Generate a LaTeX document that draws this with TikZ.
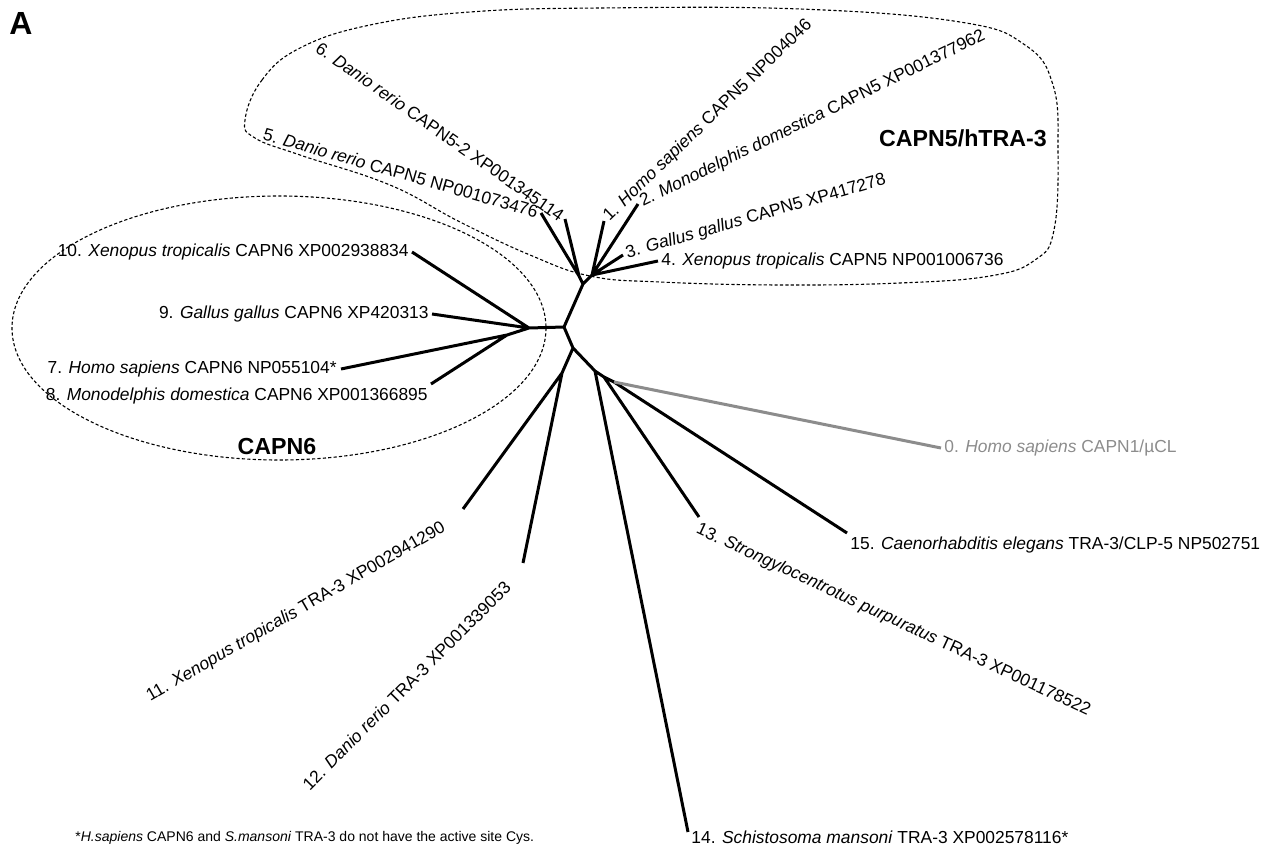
\documentclass[tikz,border=0pt]{standalone}
\usepackage{fontspec}
\setmainfont{Liberation Sans}
\usepackage{tikz}
\usetikzlibrary{calc}

\tikzset{
  leaf/.style={font=\fontsize{8.7}{10}\selectfont, inner sep=1.5pt},
  branch/.style={line width=1.5pt, line join=round},
  outgroup/.style={branch, draw=black!45},
  clade/.style={line width=0.55pt, dash pattern=on 1.6pt off 1.1pt},
  cladename/.style={font=\fontsize{11.6}{13}\selectfont\bfseries},
}

\begin{document}
\begin{tikzpicture}[x=0.5pt, y=-0.5pt]
      \useasboundingbox (0,0) rectangle (1262,845);

      % ---- Points de branchement ----
      \coordinate (c) at (564,327);
      \coordinate (n6) at (529,328);
      \coordinate (n78) at (507,335);
      \coordinate (n5) at (583,284);
      \coordinate (nD) at (579,276);
      \coordinate (nT) at (592,275);
      \coordinate (nL) at (573,348);
      \coordinate (nX) at (562,373);
      \coordinate (nR) at (595,371);
      \coordinate (nS) at (604,377);
      \coordinate (nC) at (614,382);

      % ---- Feuilles ----
      \coordinate (t0) at (941,448);
      \coordinate (t1) at (604,221);
      \coordinate (t2) at (638,204);
      \coordinate (t3) at (623,255);
      \coordinate (t4) at (658,261);
      \coordinate (t5) at (541,213);
      \coordinate (t6) at (565,219);
      \coordinate (t7) at (341,369);
      \coordinate (t8) at (431,384);
      \coordinate (t9) at (432,314);
      \coordinate (t10) at (412,252);
      \coordinate (t11) at (463,509);
      \coordinate (t12) at (523,563);
      \coordinate (t13) at (699,517);
      \coordinate (t14) at (688,832);
      \coordinate (t15) at (847,533);

      % ---- Clades (pointilles) ----
      \draw[clade] plot[smooth cycle, tension=0.7] coordinates {
        (245,120) (262,80) (300,48) (370,25) (470,12) (600,8) (800,9)
        (960,22) (1025,45) (1053,85) (1058,150) (1054,230) (1035,260)
        (990,276) (900,283) (780,285) (660,282) (590,276) (530,255)
        (460,222) (390,185) (300,155) (255,138)};
      \draw[clade] (279,328) ellipse [x radius=267, y radius=132];

      % ---- Arbre ----
      \draw[branch] (c)--(n6) (n6)--(t10) (n6)--(t9) (n6)--(n78)
            (n78)--(t7) (n78)--(t8);
      \draw[branch] (c)--(n5) (n5)--(nD) (nD)--(t5) (nD)--(t6)
            (n5)--(nT) (nT)--(t1) (nT)--(t2) (nT)--(t3) (nT)--(t4);
      \draw[branch] (c)--(nL) (nL)--(nX) (nX)--(t11) (nX)--(t12)
            (nL)--(nR) (nR)--(t14) (nR)--(nS) (nS)--(t13)
            (nS)--(nC) (nC)--(t15);
      \draw[outgroup] (nC)--(t0);

      % ---- Etiquettes ----
      \node[leaf, anchor=west, text=black!45] (l0) at (t0) {0. \textit{Homo sapiens} CAPN1/µCL};
      \node[leaf, anchor=west, rotate=44] (l1) at (t1) {1. \textit{Homo sapiens} CAPN5 NP004046};
      \node[leaf, anchor=west, rotate=26] (l2) at (t2) {2. \textit{Monodelphis domestica} CAPN5 XP001377962};
      \node[leaf, anchor=west, rotate=16] (l3) at (t3) {3. \textit{Gallus gallus} CAPN5 XP417278};
      \node[leaf, anchor=west] (l4) at (t4) {4. \textit{Xenopus tropicalis} CAPN5 NP001006736};
      \node[leaf, anchor=east, rotate=-16] (l5) at (t5) {5. \textit{Danio rerio} CAPN5 NP001073476};
      \node[leaf, anchor=east, rotate=-35] (l6) at (t6) {6. \textit{Danio rerio} CAPN5-2 XP001345114};
      \node[leaf, anchor=east, inner sep=2pt] (l7) at (t7) {7. \textit{Homo sapiens} CAPN6 NP055104*};
      \node[leaf, anchor=north east] (l8) at (t8) {8. \textit{Monodelphis domestica} CAPN6 XP001366895};
      \node[leaf, anchor=east] (l9) at (t9) {9. \textit{Gallus gallus} CAPN6 XP420313};
      \node[leaf, anchor=east] (l10) at (t10) {10. \textit{Xenopus tropicalis} CAPN6 XP002938834};
      \node[leaf, anchor=east, rotate=30] (l11) at ($(t11)+(-16,16)$) {11. \textit{Xenopus tropicalis} TRA-3 XP002941290};
      \node[leaf, anchor=east, rotate=45] (l12) at ($(t12)+(-13,19)$) {12. \textit{Danio rerio} TRA-3 XP001339053};
      \node[leaf, anchor=north west, rotate=-25] (l13) at (t13) {13. \textit{Strongylocentrotus purpuratus} TRA-3 XP001178522};
      \node[leaf, anchor=base west] (l14) at ($(t14)+(0,11)$) {14. \textit{Schistosoma mansoni} TRA-3 XP002578116*};
      \node[leaf, anchor=north west] (l15) at (t15) {15. \textit{Caenorhabditis elegans} TRA-3/CLP-5 NP502751};

      % ---- Noms des clades, panneau, note ----
      \node[cladename] (k5) at (963,138) {CAPN5/hTRA-3};
      \node[cladename] (k6) at (277,447) {CAPN6};
      \node[font=\fontsize{16}{18}\selectfont\bfseries] (panel) at (21,23) {A};
      \node[font=\fontsize{7}{8}\selectfont, anchor=west, inner sep=0pt] (note) at (75,838)
        {*\textit{H.sapiens} CAPN6 and \textit{S.mansoni} TRA-3 do not have the active site Cys.};

\end{tikzpicture}
\end{document}
